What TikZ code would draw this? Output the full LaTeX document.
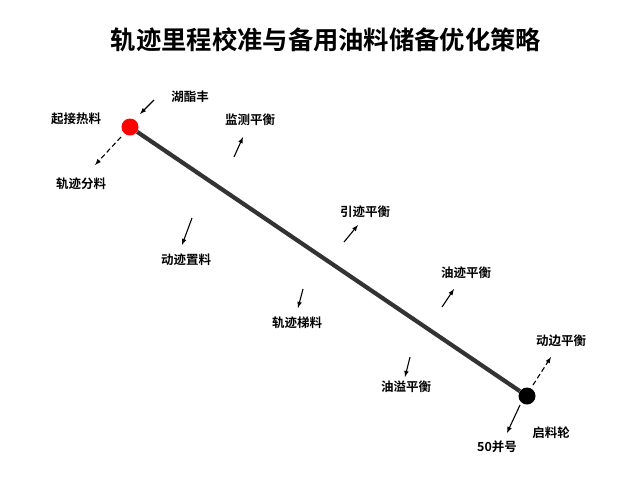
\documentclass[tikz,border=0pt]{standalone}
\usepackage{fontspec}
\usepackage{xcolor}
\setmainfont{Noto Sans CJK SC}
\newfontfamily\cjkbold{Noto Sans CJK SC Bold}
\usepackage{tikz}

\begin{document}
\begin{tikzpicture}[x=1pt,y=-1pt]
    \useasboundingbox (0,0) rectangle (640,480);
    \tikzset{lbl/.style={font=\cjkbold\fontsize{12.5}{12.5}\selectfont, inner sep=0pt},
             arr/.style={->, >=latex, line width=1.1pt}}
    \node[font=\cjkbold\fontsize{25.3}{26}\selectfont] (title) at (326,40){轨迹里程校准与备用油料储备优化策略};
    % track
    \node[circle, fill=red, inner sep=0pt, minimum size=17pt] (start) at (130,127){};
    \node[circle, fill=black, inner sep=0pt, minimum size=17pt] (stop) at (527,396){};
    \draw [line width=4.2pt, black!80] (start) -- (stop);
    % labels
    \node[lbl] (a) at (190,97){湖酯丰};
    \node[lbl] (b) at (76,119){起接热料};
    \node[lbl] (c) at (81,184){轨迹分料};
    \node[lbl] (d) at (250,120){监测平衡};
    \node[lbl] (e) at (186,260){动迹置料};
    \node[lbl] (f) at (297,323){轨迹梯料};
    \node[lbl] (g) at (365,212){引迹平衡};
    \node[lbl] (h) at (466,273){油迹平衡};
    \node[lbl] (i) at (406,387){油溢平衡};
    \node[lbl] (j) at (561,341){动边平衡};
    \node[lbl] (k) at (551,433){启料轮};
    \node[lbl] (l) at (497,447){50并号};
    % arrows
    \coordinate (a1) at (154,100); \coordinate (a2) at (140,114);
    \coordinate (c1) at (121,137); \coordinate (c2) at (95,165);
    \coordinate (d1) at (234,157); \coordinate (d2) at (243,137);
    \coordinate (e1) at (192,218); \coordinate (e2) at (182,245);
    \coordinate (f1) at (303,289); \coordinate (f2) at (298,308);
    \coordinate (g1) at (344,242); \coordinate (g2) at (358,225);
    \coordinate (h1) at (442,307); \coordinate (h2) at (454,289);
    \coordinate (i1) at (410,357); \coordinate (i2) at (405,377);
    \coordinate (j1) at (533,385); \coordinate (j2) at (551,357);
    \coordinate (l1) at (520,405); \coordinate (l2) at (507,433);
    \draw [arr] (a1) -- (a2);
    \draw [arr, dash pattern=on 5pt off 3pt] (c1) -- (c2);
    \draw [arr] (d1) -- (d2);
    \draw [arr] (e1) -- (e2);
    \draw [arr] (f1) -- (f2);
    \draw [arr] (g1) -- (g2);
    \draw [arr] (h1) -- (h2);
    \draw [arr] (i1) -- (i2);
    \draw [arr, dash pattern=on 5pt off 3pt] (j1) -- (j2);
    \draw [arr] (l1) -- (l2);
\end{tikzpicture}
\end{document}
